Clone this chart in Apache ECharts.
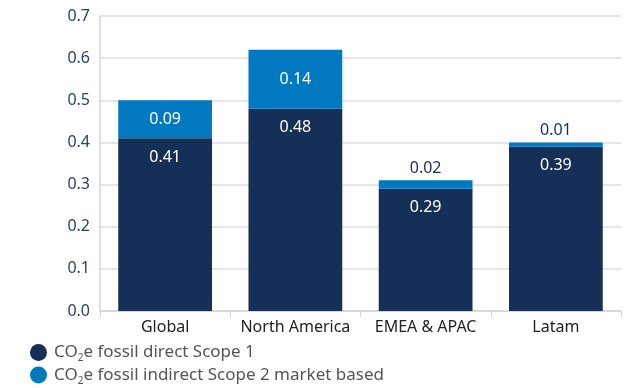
<!DOCTYPE html>
<html>
<head>
<meta charset="utf-8">
<script src="https://cdn.jsdelivr.net/npm/echarts@6/dist/echarts.min.js"></script>
<style>
  html, body { margin: 0; padding: 0; background: #fff; }
  #chart { width: 636px; height: 388px; }
</style>
</head>
<body>
<div id="chart"></div>
<script>
const regions = ["Global", "North America", "EMEA & APAC", "Latam"];
const scope1 = [0.41, 0.48, 0.29, 0.39];
const scope2 = [0.09, 0.14, 0.02, 0.01];
const yTicks = [0, 0.1, 0.2, 0.3, 0.4, 0.5, 0.6, 0.7];

const darkBlue = "#152f56";
const lightBlue = "#0079c1";
const font = "Noto Sans";

// small segments get their label above the bar
const scope2Data = scope2.map((value) => {
  if (value < 0.05) {
    return {
      value: value,
      label: { position: "top", color: darkBlue, distance: 4 }
    };
  }
  return value;
});

const chart = echarts.init(document.getElementById("chart"));
chart.setOption({
  animation: false,
  textStyle: { fontFamily: font },
  grid: { left: 100, right: 15, top: 16, bottom: 77 },
  xAxis: {
    type: "category",
    data: regions,
    axisLine: { lineStyle: { color: "#d4d4d4", width: 1.5 } },
    axisTick: { show: true, length: 6, lineStyle: { color: "#d4d4d4" } },
    axisLabel: { color: "#222", fontSize: 16, margin: 8, interval: 0, fontFamily: font }
  },
  yAxis: {
    type: "value",
    min: yTicks[0],
    max: yTicks[yTicks.length - 1],
    interval: 0.1,
    axisLine: { show: true, lineStyle: { color: "#d4d4d4", width: 1.5 } },
    axisTick: { show: false },
    splitLine: { lineStyle: { color: "#dedede", width: 1.5 } },
    axisLabel: {
      color: "#2b3f63",
      fontSize: 16,
      margin: 10,
      fontFamily: font,
      formatter: (v) => v.toFixed(1)
    }
  },
  legend: {
    orient: "vertical",
    left: 30,
    top: 344,
    padding: 0,
    itemWidth: 21,
    itemHeight: 17,
    itemGap: 3,
    icon: "circle",
    data: ["s1", "s2"],
    formatter: (name) => name === "s1"
      ? "{a|CO}{sub|2}{a|e fossil direct Scope 1}"
      : "{a|CO}{sub|2}{a|e fossil indirect Scope 2 market based}",
    textStyle: {
      rich: {
        a: { fontSize: 17, color: "#555", fontFamily: font, lineHeight: 22, verticalAlign: "middle" },
        sub: { fontSize: 10, color: "#555", fontFamily: font, lineHeight: 12, verticalAlign: "bottom" }
      }
    }
  },
  series: [
    {
      name: "s1",
      type: "bar",
      stack: "total",
      barWidth: "72%",
      data: scope1,
      itemStyle: { color: darkBlue },
      label: {
        show: true,
        position: "insideTop",
        distance: 11,
        color: "#fff",
        fontSize: 16,
        fontFamily: font,
        formatter: (p) => p.value.toFixed(2)
      }
    },
    {
      name: "s2",
      type: "bar",
      stack: "total",
      data: scope2Data,
      itemStyle: { color: lightBlue },
      label: {
        show: true,
        position: "inside",
        color: "#fff",
        fontSize: 16,
        fontFamily: font,
        formatter: (p) => p.value.toFixed(2)
      }
    }
  ]
});
</script>
</body>
</html>
